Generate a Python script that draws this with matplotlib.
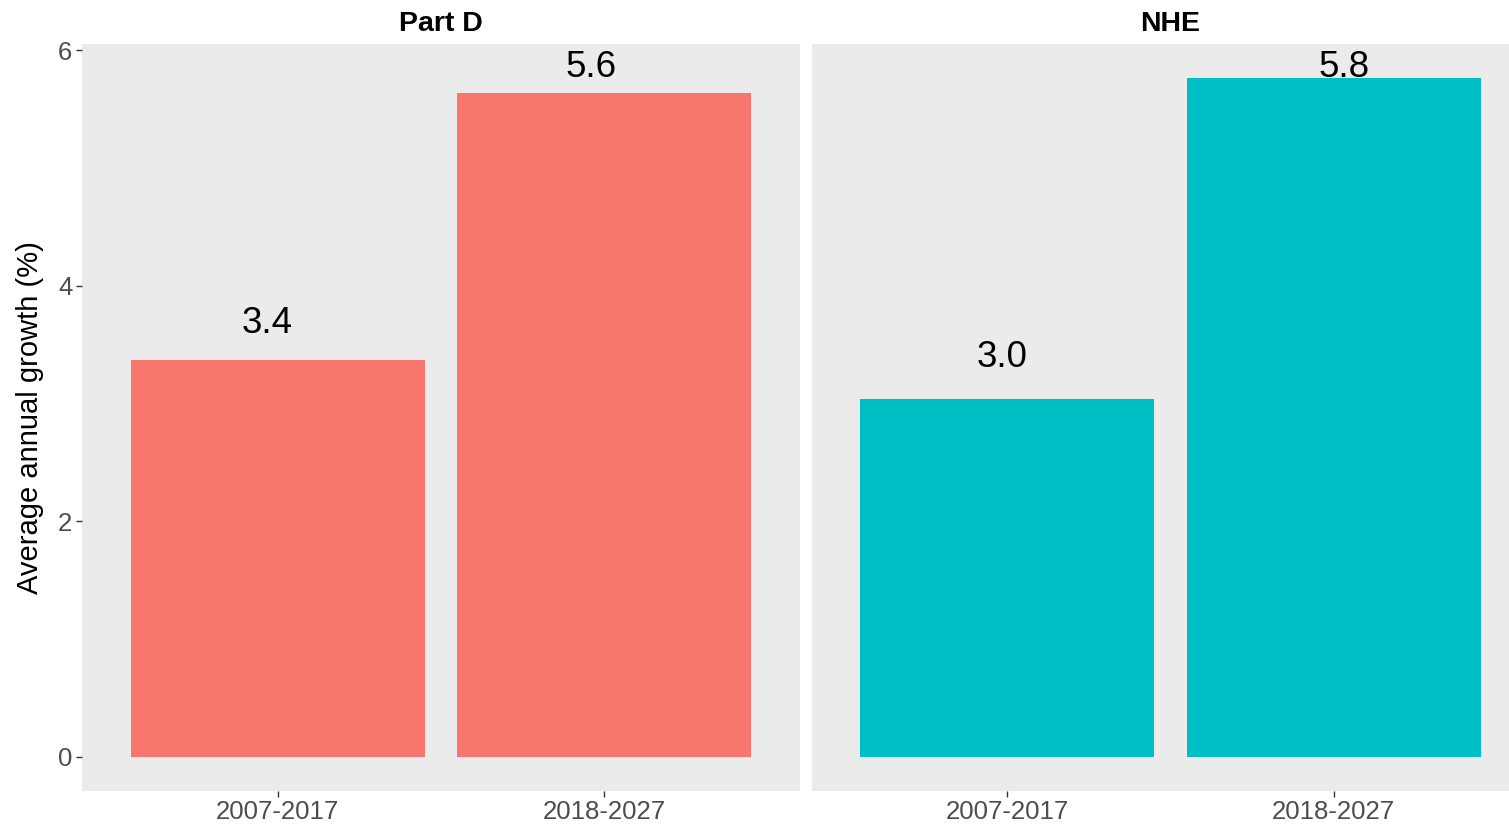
import matplotlib
matplotlib.use('Agg')
import matplotlib.pyplot as plt
import numpy as np

plt.rcParams['font.family'] = ['Liberation Sans', 'DejaVu Sans']

# Данные
panels = ['Part D', 'NHE']
periods = ['2007-2017', '2018-2027']
part_d = [3.37, 5.64]
nhe = [3.04, 5.76]
# положение подписей (базовая линия текста, сдвиг по x) — подписи стоят вручную
label_y_part_d = [3.60, 5.775]
label_y_nhe = [3.31, 5.775]
label_dx_part_d = [-0.034, -0.041]
label_dx_nhe = [-0.016, 0.031]
colors = ['#F8766D', '#00BFC4']

W, H = 1509, 825
fig = plt.figure(figsize=(W / 100, H / 100), dpi=100)

top_px, bottom_px = 44.5, 790.5
ax_h = (bottom_px - top_px) / H
ax_b = (H - bottom_px) / H
ax1 = fig.add_axes([82 / W, ax_b, 718 / W, ax_h])
ax2 = fig.add_axes([811.5 / W, ax_b, 718 / W, ax_h])

ymax = max(part_d + nhe)
x = np.arange(1, len(periods) + 1)

for ax, vals, ly, dx, col, title in [
        (ax1, part_d, label_y_part_d, label_dx_part_d, colors[0], panels[0]),
        (ax2, nhe, label_y_nhe, label_dx_nhe, colors[1], panels[1])]:
    ax.set_facecolor('#EBEBEB')
    ax.bar(x, vals, width=0.9, color=col, linewidth=0)
    for xi, v, yy, d in zip(x, vals, ly, dx):
        ax.text(xi + d, yy, f'{v:.1f}', ha='center', va='baseline', fontsize=26.5,
                color='black', clip_on=False)
    ax.set_xlim(0.4, 2.6)
    ax.set_ylim(-0.05 * ymax, 1.05 * ymax)
    ax.set_xticks(x)
    ax.set_xticklabels(periods)
    ax.set_yticks([0, 2, 4, 6])
    ax.tick_params(axis='both', length=4, width=1, color='#333333',
                   labelcolor='#4D4D4D', labelsize=18.5, pad=3)
    for s in ax.spines.values():
        s.set_visible(False)
    ax.grid(False)
    ax.text(0.5, 1.01, title, transform=ax.transAxes, ha='center', va='bottom',
            fontsize=20.5, fontweight='bold', color='black')

ax2.tick_params(axis='y', left=False, labelleft=False)
ax1.set_ylabel('Average annual growth (%)', fontsize=21, color='black', labelpad=10)

fig.savefig('out.png', dpi=100)
